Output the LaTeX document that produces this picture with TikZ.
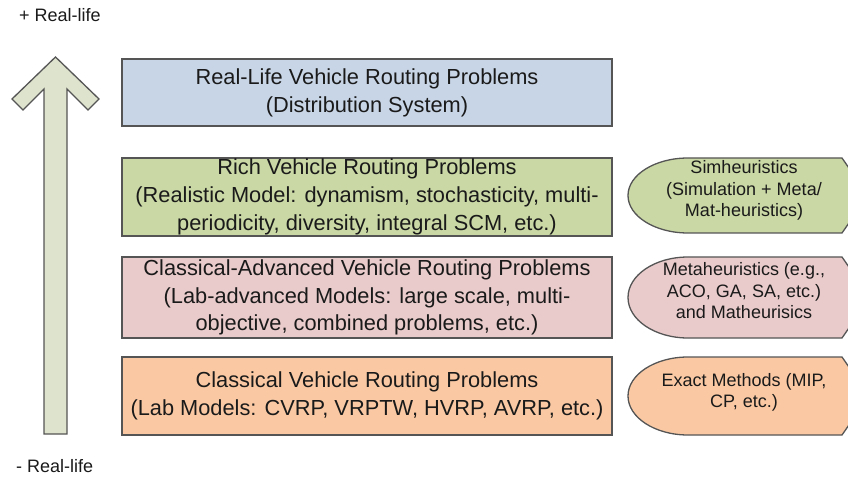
\documentclass[tikz,border=0pt]{standalone}
\usepackage{fontspec}
\setmainfont{Liberation Sans}
\definecolor{edgegray}{HTML}{555555}
\definecolor{txtgray}{HTML}{1A1A1A}
\definecolor{reallifeblue}{HTML}{C8D5E6}
\definecolor{richgreen}{HTML}{C9D8A4}
\definecolor{advpink}{HTML}{EACBCB}
\definecolor{classorange}{HTML}{FAC9A4}
\definecolor{arrowsage}{HTML}{DDE3CC}

\begin{document}
\begin{tikzpicture}[x=1pt,y=-1pt,
  level/.style={draw=edgegray, line width=1.3pt, minimum width=490pt, inner sep=0pt,
    align=center, text=txtgray, font=\fontsize{21.8}{27.8}\selectfont},
  method/.style={draw=edgegray, line width=1.3pt},
  methodtext/.style={align=center, text=txtgray, inner sep=0pt, font=\fontsize{18}{21.5}\selectfont},
  sidetext/.style={anchor=west, text=txtgray, inner sep=0pt, font=\fontsize{18}{21.5}\selectfont}]
\useasboundingbox (0,0) rectangle (848,478);
\clip (0,0) rectangle (848,478);

% the upward arrow
\filldraw [fill=arrowsage, draw=edgegray, line width=1.3pt, line join=miter]
  (55.5,57) -- (99,99) -- (88,110) -- (67,89) -- (67,434) -- (44,434)
  -- (44,89) -- (23,110) -- (12,99) -- cycle;
\node [sidetext] (plus) at (19,15) {+ Real-life};
\node [sidetext] (minus) at (16,466) {- Real-life};

% the four levels
\node [level, fill=reallifeblue, minimum height=67pt] (reallife) at (367,92.5)
  {Real-Life Vehicle Routing Problems\\(Distribution System)};
\node [level, fill=richgreen, minimum height=78pt] (rich) at (367,197)
  {Rich Vehicle Routing Problems\\(Realistic Model: dynamism, stochasticity, multi-\\periodicity, diversity, integral SCM, etc.)};
\node [level, fill=advpink, minimum height=81pt] (advanced) at (367,297.5)
  {Classical-Advanced Vehicle Routing Problems\\(Lab-advanced Models: large scale, multi-\\objective, combined problems, etc.)};
\node [level, fill=classorange, minimum height=78pt] (classical) at (367,396)
  {Classical Vehicle Routing Problems\\(Lab Models: CVRP, VRPTW, HVRP, AVRP, etc.)};

% the solution methods
\filldraw [method, fill=richgreen] (688,158) -- (842,158) -- (868,195.5) -- (842,233) -- (688,233)
  .. controls (654.9,233) and (628,216.2) .. (628,195.5)
  .. controls (628,174.8) and (654.9,158) .. cycle;
\node [methodtext] (simheur) at (744,190.5)
  {Simheuristics\\(Simulation + Meta/\\Mat-heuristics)};
\filldraw [method, fill=advpink] (688,257) -- (842,257) -- (870,297.5) -- (842,338) -- (688,338)
  .. controls (654.9,338) and (628,319.9) .. (628,297.5)
  .. controls (628,275.1) and (654.9,257) .. cycle;
\node [methodtext] (metaheur) at (744,291)
  {Metaheuristics (e.g.,\\ACO, GA, SA, etc.)\\and Matheurisics};
\filldraw [method, fill=classorange] (688,357) -- (842,357) -- (869,396) -- (842,435) -- (688,435)
  .. controls (654.9,435) and (628,417.5) .. (628,396)
  .. controls (628,374.5) and (654.9,357) .. cycle;
\node [methodtext] (exact) at (744,392.5)
  {Exact Methods (MIP,\\CP, etc.)};
\end{tikzpicture}
\end{document}
